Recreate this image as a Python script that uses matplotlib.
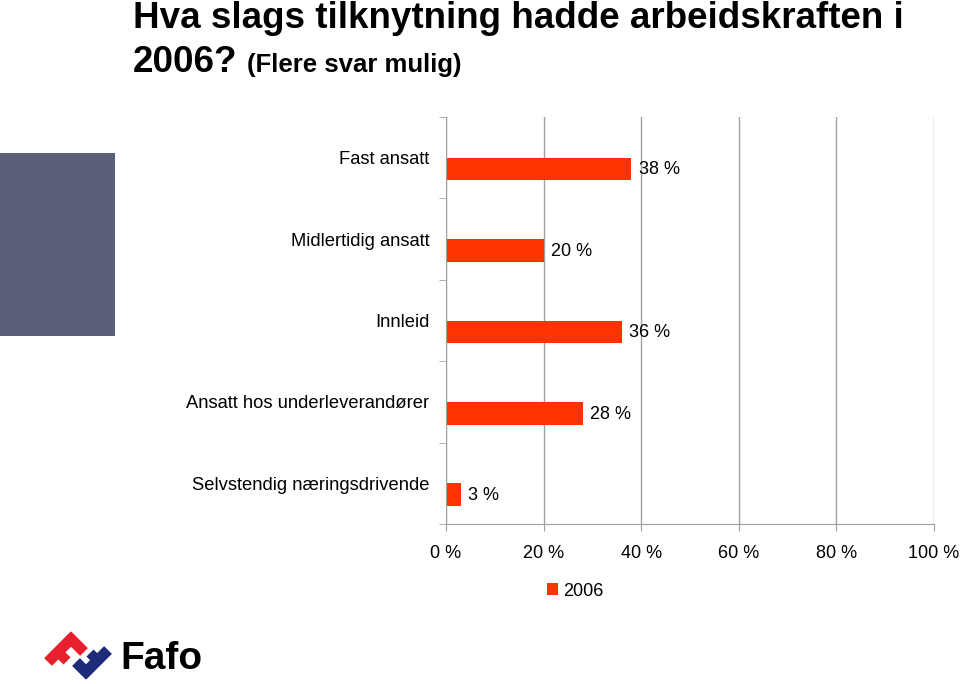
import matplotlib.pyplot as plt
from matplotlib.patches import Rectangle, Polygon
import numpy as np

# data
categories = ['Fast ansatt', 'Midlertidig ansatt', 'Innleid',
              'Ansatt hos underleverandører', 'Selvstendig næringsdrivende']
values_2006 = [38, 20, 36, 28, 3]
xticks = [0, 20, 40, 60, 80, 100]
xtick_labels = ['0 %', '20 %', '40 %', '60 %', '80 %', '100 %']
series_name = '2006'

W, H = 960, 684
plt.rcParams['font.family'] = ['Liberation Sans', 'DejaVu Sans']
fig = plt.figure(figsize=(W / 100, H / 100), dpi=100)

# axes placed to match the original slide
ax = fig.add_axes([446 / W, 1 - 524 / H, (934 - 446) / W, (524 - 117) / H])

red = '#FF3300'
grid_col = '#A0A0A0'
pos = np.arange(len(categories))
bars = ax.barh(pos + 0.14, values_2006, height=0.28, color=red, label=series_name)
for b, v in zip(bars, values_2006):
    ax.text(b.get_width() + 1.6, b.get_y() + b.get_height() / 2 + 0.01, f'{v} %',
            va='center', ha='left', fontsize=13)

ax.set_xlim(0, 100)
ax.set_ylim(len(categories) - 0.5, -0.5)
ax.set_xticks(xticks)
ax.set_xticklabels(xtick_labels, fontsize=13)
ax.set_yticks(pos)
ax.set_yticklabels(categories, fontsize=13.2)
ax.set_yticks(np.arange(len(categories) + 1) - 0.5, minor=True)
ax.tick_params(axis='y', which='major', length=0, pad=12)
ax.tick_params(axis='y', which='minor', length=5, color=grid_col)
ax.tick_params(axis='x', length=5, color=grid_col, pad=10)
ax.xaxis.grid(True, color=grid_col, linewidth=1)
ax.set_axisbelow(True)
for s in ['top', 'right']:
    ax.spines[s].set_visible(False)
for s in ['left', 'bottom']:
    ax.spines[s].set_color(grid_col)

ax.legend(loc='center', bbox_to_anchor=(575 / W, 1 - 591 / H),
          bbox_transform=fig.transFigure, frameon=False, fontsize=13,
          handlelength=0.6, handleheight=0.6, handletextpad=0.3)

# title
fig.text(133 / W, 1 - 28 / H, 'Hva slags tilknytning hadde arbeidskraften i',
         fontsize=26.5, fontweight='bold', va='baseline', ha='left')
fig.text(133 / W, 1 - 72 / H, '2006?', fontsize=26.5, fontweight='bold',
         va='baseline', ha='left')
fig.text(247 / W, 1 - 72 / H, '(Flere svar mulig)', fontsize=18.5,
         fontweight='bold', va='baseline', ha='left')

# grey block on the left
fig.add_artist(Rectangle((0, 1 - 336 / H), 115 / W, (336 - 153) / H,
                         transform=fig.transFigure, color='#5B5F7A', lw=0))

# Fafo logo (rough)
def stroke(p0, p1, w, col, ext0=0.0, ext1=0.0):
    p0, p1 = np.array(p0, float), np.array(p1, float)
    d = p1 - p0
    u = d / np.hypot(*d)
    p0, p1 = p0 - u * ext0, p1 + u * ext1
    n = np.array([-u[1], u[0]]) * w / 2
    pts = [p0 + n, p1 + n, p1 - n, p0 - n]
    pts = [(x / W, 1 - y / H) for x, y in pts]
    fig.add_artist(Polygon(pts, closed=True, transform=fig.transFigure,
                           color=col, lw=0))

lred, lblue = '#E8202E', '#1E2A7A'
stroke((48, 662), (71, 639), 11, lred, ext1=5)
stroke((71, 639), (84, 652), 11, lred, ext0=5)
stroke((58, 652), (67, 661), 10, lred)
stroke((108, 650), (86, 672), 11, lblue, ext1=5)
stroke((86, 672), (76, 662), 11, lblue, ext0=5)
stroke((98, 661), (90, 653), 10, lblue)
fig.text(120 / W, 1 - 669 / H, 'Fafo', fontsize=28, fontweight='bold',
         va='baseline', ha='left')

fig.savefig('out.png', dpi=100)
